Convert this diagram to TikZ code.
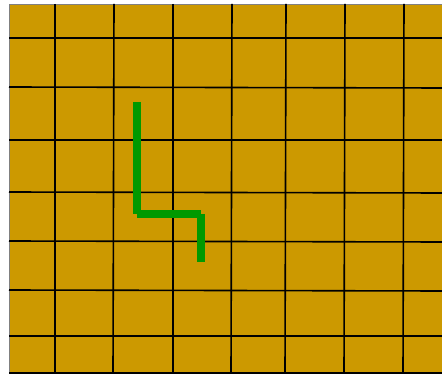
\documentclass[tikz,border=0pt]{standalone}
\usepackage{xcolor}
\definecolor{fieldgold}{RGB}{204,153,0}
\definecolor{trackgreen}{RGB}{0,153,0}
\usepackage{tikz}
\begin{document}
\begin{tikzpicture}[x=1pt,y=-1pt,
    gridline/.style={black, line width=1.6pt},
    trackline/.style={trackgreen, line width=8pt}]
  \useasboundingbox (0,0) rectangle (442,374);
  \draw[fill=fieldgold, draw=black!50, line width=0.8pt] (9,4) rectangle (443,375);
  \foreach \xa/\xb in {55/55,114/113,173/173,232/231,286/285,345/344,404/403}
    \draw[gridline] (\xa,4) -- (\xb,374);
  \foreach \ya/\yb in {38/38,87/88,140/140,192/193,241/242,290/291,336/336,373/373}
    \draw[gridline] (9,\ya) -- (442,\yb);
  \draw[trackline] (137,102) -- (137,214);
  \draw[trackline] (137,214) -- (201,214);
  \draw[trackline] (201,214) -- (201,262);
\end{tikzpicture}
\end{document}
